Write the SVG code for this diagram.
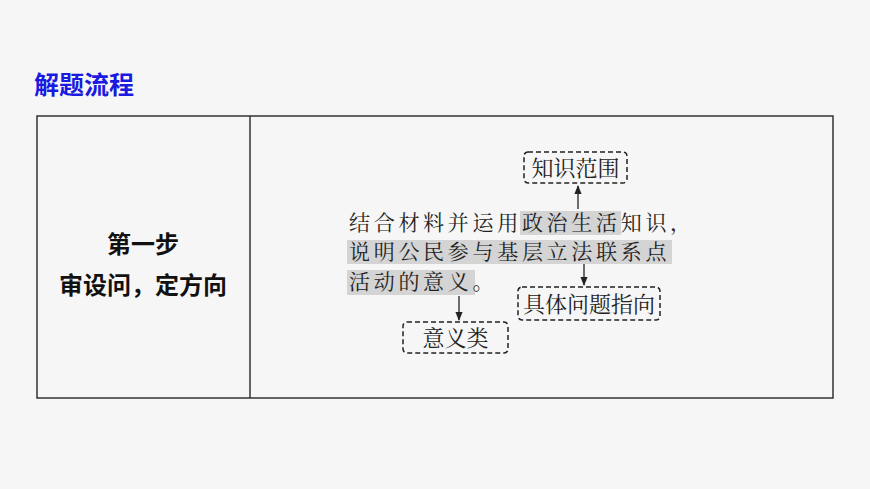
<svg xmlns="http://www.w3.org/2000/svg" width="870" height="489" viewBox="0 0 870 489">
<style>
.t{font-family:"Noto Sans CJK SC","Noto Sans",sans-serif}
.m{font-family:"Noto Serif CJK SC","Noto Sans CJK SC",serif;font-size:21px;fill:#222}
.b{font-size:22px}
.box{fill:none;stroke:#222;stroke-width:1.5;stroke-dasharray:5 3}
.hl{fill:#d4d4d4}
.ar{stroke:#222;stroke-width:1.3;marker-end:url(#a)}
</style>
<defs><marker id="a" viewBox="0 0 10 10" refX="9" refY="5" markerWidth="7" markerHeight="7" orient="auto"><path d="M0,1 L10,5 L0,9 z" fill="#222"/></marker></defs>
<rect width="870" height="489" fill="#f6f6f6"/>
<text class="t" x="34" y="94" font-size="25" font-weight="bold" fill="#1a1ae0">解题流程</text>
<g id="table">
<rect x="37" y="116" width="796" height="282" fill="none" stroke="#333" stroke-width="1.5"/>
<line x1="250" y1="116" x2="250" y2="398" stroke="#333" stroke-width="1.5"/>
<text class="t" x="143" y="253" font-size="24" font-weight="bold" text-anchor="middle" fill="#111">第一步</text>
<text class="t" x="143" y="294" font-size="24" font-weight="bold" text-anchor="middle" fill="#111">审设问，定方向</text>
</g>
<g id="question">
<rect class="hl" x="520" y="211" width="101" height="24"/>
<rect class="hl" x="347" y="240" width="325" height="24"/>
<rect class="hl" x="347" y="270" width="128" height="25"/>
<text class="m" x="349" y="230" letter-spacing="3.7">结合材料并运用政治生活知识，</text>
<text class="m" x="349" y="259" letter-spacing="3.7">说明公民参与基层立法联系点</text>
<text class="m" x="349" y="289" letter-spacing="3.7">活动的意义。</text>
</g>
<g id="n1"><rect class="box" x="524" y="152" width="103" height="31" rx="4"/><text class="m b" x="575.5" y="176" text-anchor="middle">知识范围</text></g>
<g id="n2"><rect class="box" x="518" y="287" width="142" height="33" rx="4"/><text class="m b" x="589" y="312" text-anchor="middle">具体问题指向</text></g>
<g id="n3"><rect class="box" x="403" y="322" width="105" height="31" rx="4"/><text class="m b" x="455.5" y="346" text-anchor="middle">意义类</text></g>
<g id="connectors">
<line class="ar" x1="578" y1="209" x2="578" y2="186"/>
<line class="ar" x1="584" y1="264" x2="584" y2="285"/>
<line class="ar" x1="459" y1="296" x2="459" y2="320"/>
</g>
</svg>
